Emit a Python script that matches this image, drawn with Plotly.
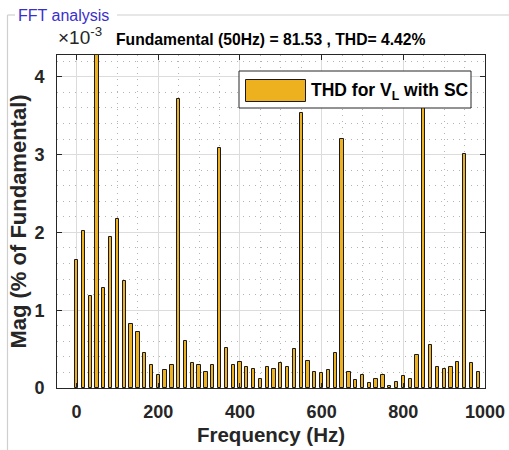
import plotly.graph_objects as go

# Harmonic frequencies (Hz) -- FFT resolution of 50/3 Hz
freq_hz = [0, 16.67, 33.33, 50, 66.67, 83.33, 100, 116.67, 133.33, 150,
           166.67, 183.33, 200, 216.67, 233.33, 250, 266.67, 283.33, 300, 316.67,
           333.33, 350, 366.67, 383.33, 400, 416.67, 433.33, 450, 466.67, 483.33,
           500, 516.67, 533.33, 550, 566.67, 583.33, 600, 616.67, 633.33, 650,
           666.67, 683.33, 700, 716.67, 733.33, 750, 766.67, 783.33, 800, 816.67,
           833.33, 850, 866.67, 883.33, 900, 916.67, 933.33, 950, 966.67, 983.33]

# Magnitude (% of fundamental, x1e-3); fundamental bar is off-scale
mag = [1.64, 2.02, 1.18, 100.0, 1.29, 1.94, 2.17, 1.37, 0.82, 0.72,
       0.45, 0.30, 0.17, 0.23, 0.30, 3.72, 0.61, 0.32, 0.30, 0.21,
       0.30, 3.09, 0.52, 0.30, 0.33, 0.27, 0.25, 0.12, 0.27, 0.25,
       0.32, 0.27, 0.50, 3.54, 0.35, 0.20, 0.19, 0.23, 0.45, 3.20,
       0.21, 0.10, 0.17, 0.07, 0.12, 0.17, 0.03, 0.08, 0.15, 0.12,
       0.42, 3.90, 0.55, 0.27, 0.24, 0.27, 0.34, 3.01, 0.32, 0.20]

x_ticks = [0, 200, 400, 600, 800, 1000]
y_ticks = [0, 1, 2, 3, 4]

title_text = "Fundamental (50Hz) = 81.53 , THD= 4.42%"
legend_text = "THD for V<sub>L</sub> with SC"
panel_title = "FFT analysis"

W, H = 509, 450
L, R, T, B = 57, 485, 55, 388
FONT = "Liberation Sans, Arial, sans-serif"
BAR = "#EDB120"
TXT = "#262626"


def px(x):
    return (x - L) / (R - L)


def py(y):
    return (B - y) / (B - T)


fig = go.Figure()
fig.add_trace(go.Bar(
    x=freq_hz, y=mag, width=8,
    marker=dict(color=BAR, line=dict(color="#1a1a1a", width=1)),
    showlegend=False, hoverinfo="x+y",
))

axis_common = dict(
    showline=True, linecolor="#262626", linewidth=1, mirror="ticks",
    ticks="inside", ticklen=5, tickcolor="#262626", automargin=False,
    showgrid=True, gridcolor="#dcdcdc", gridwidth=1, zeroline=False,
    tickfont=dict(family=FONT, size=18, color=TXT, weight="bold"),
)

fig.update_xaxes(
    range=[-48, 1000], tickvals=x_ticks, ticktext=[str(v) for v in x_ticks],
    ticklabelstandoff=7,
    minor=dict(dtick=50, tick0=0, showgrid=True, gridcolor="#b4b4b4",
               griddash="1px,5px", gridwidth=1, ticks=""),
    title=dict(text="Frequency (Hz)", font=dict(family=FONT, size=20.5, color=TXT, weight="bold"),
               standoff=7),
    **axis_common,
)
fig.update_yaxes(
    range=[0, 4.28], tickvals=y_ticks, ticktext=[str(v) for v in y_ticks],
    ticklabelstandoff=8,
    minor=dict(dtick=0.2, tick0=0, showgrid=True, gridcolor="#b4b4b4",
               griddash="1px,5px", gridwidth=1, ticks=""),
    title=dict(text="Mag (% of Fundamental)", font=dict(family=FONT, size=22, color=TXT, weight="bold"),
               standoff=1),
    **axis_common,
)

shapes = []
# panel border (uipanel)
pc = "#cfcfcf"
shapes.append(dict(type="line", xref="paper", yref="paper", x0=px(7.5), x1=px(7.5), y0=py(15), y1=py(452),
                   line=dict(color=pc, width=1.2)))
shapes.append(dict(type="line", xref="paper", yref="paper", x0=px(7.5), x1=px(15), y0=py(15), y1=py(15),
                   line=dict(color=pc, width=1.2)))
shapes.append(dict(type="line", xref="paper", yref="paper", x0=px(117), x1=px(511), y0=py(15), y1=py(15),
                   line=dict(color=pc, width=1.2)))
# legend box
shapes.append(dict(type="rect", xref="paper", yref="paper", layer="above",
                   x0=px(239), x1=px(471), y0=py(108), y1=py(71),
                   fillcolor="white", line=dict(color="#262626", width=1)))
shapes.append(dict(type="rect", xref="paper", yref="paper", layer="above",
                   x0=px(245.5), x1=px(305.5), y0=py(101.5), y1=py(79.5),
                   fillcolor=BAR, line=dict(color="#1a1a1a", width=1)))

annotations = [
    dict(text=panel_title, xref="paper", yref="paper", x=px(16), y=py(15), xanchor="left", yanchor="middle",
         showarrow=False, font=dict(family=FONT, size=16, color="#3a2fcc")),
    dict(text="<b>" + title_text + "</b>", xref="paper", yref="paper", x=px(271), y=py(50),
         xanchor="center", yanchor="bottom", showarrow=False,
         font=dict(family=FONT, size=15.7, color="#000000")),
    dict(text="×10<sup>-3</sup>", xref="paper", yref="paper", x=px(56), y=py(50),
         xanchor="left", yanchor="bottom", showarrow=False,
         font=dict(family=FONT, size=19, color=TXT)),
    dict(text="<b>" + legend_text + "</b>", xref="paper", yref="paper", x=px(309), y=py(91),
         xanchor="left", yanchor="middle", showarrow=False,
         font=dict(family=FONT, size=17.5, color="#000000")),
]

fig.update_layout(
    width=W, height=H,
    margin=dict(l=L, r=W - R, t=T, b=H - B, pad=0),
    paper_bgcolor="white", plot_bgcolor="white",
    bargap=0, shapes=shapes, annotations=annotations,
    font=dict(family=FONT, color=TXT),
    showlegend=False,
)

fig.write_html("out.html")
